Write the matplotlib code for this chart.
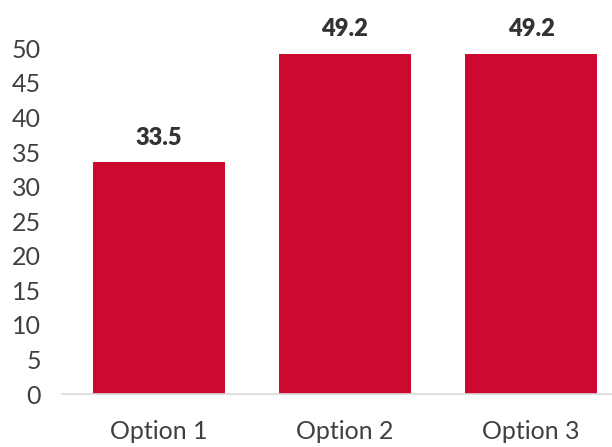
import matplotlib.pyplot as plt

categories = ['Option 1', 'Option 2', 'Option 3']
values = [33.5, 49.2, 49.2]
yticks = [0, 5, 10, 15, 20, 25, 30, 35, 40, 45, 50]

plt.rcParams['font.family'] = ['Lato', 'DejaVu Sans']

fig = plt.figure(figsize=(6.12, 4.47), dpi=100)
ax = fig.add_axes([62 / 612, (447 - 394) / 447, 550 / 612, 394 / 447])

x = range(len(categories))
bars = ax.bar(x, values, width=0.71, color='#CC0A2F')
for b, v in zip(bars, values):
    ax.text(b.get_x() + b.get_width() / 2, v + 2.0, f'{v:.1f}',
            ha='center', va='bottom', fontsize=17, fontweight='heavy', color='#333333')

ax.set_xlim(-0.52, 2.435)
ax.set_ylim(0, 57)
ax.set_yticks(yticks)
ax.set_xticks(list(x))
ax.set_xticklabels(categories)
ax.tick_params(axis='both', length=0, labelsize=18, colors='#404040')
ax.tick_params(axis='x', pad=19)
ax.tick_params(axis='y', pad=15)
for s in ['top', 'right', 'left']:
    ax.spines[s].set_visible(False)
ax.spines['bottom'].set_color('#d9d9d9')
ax.spines['bottom'].set_linewidth(1.2)

plt.savefig('out.png', dpi=100)
plt.close()
